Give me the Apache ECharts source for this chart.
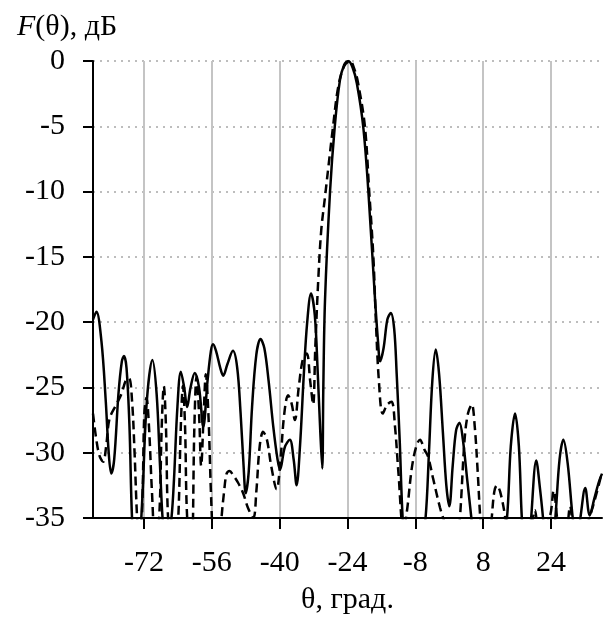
<!DOCTYPE html>
<html>
<head>
<meta charset="utf-8">
<script src="https://cdn.jsdelivr.net/npm/echarts@6/dist/echarts.min.js"></script>
<style>
html,body{margin:0;padding:0;background:#fff;}
#chart{width:606px;height:630px;}
</style>
</head>
<body>
<div id="chart"></div>
<script>
// X tick labels (degrees) and Y tick step
var xTicks = [-72, -56, -40, -24, -8, 8, 24];
var xMin = -84, xMax = 36;
var yMin = -35, yMax = 0, yStep = 5;

// Solid curve: angle (deg) and level (dB)
var thetaSolid = [-84, -83.2, -82, -81, -80.3, -79.7, -79, -78, -77.2, -76.7, -76.1, -75.4, -74.8, -73.8, -72.8, -72.3, -71.3, -70, -69, -68.2, -67.6, -66.7, -65.5, -64.9, -64.1, -63.3, -62.5, -61.8, -61, -60, -59, -58, -57, -56.2, -55.7, -55, -54, -53.3, -52.3, -51, -50, -49.2, -48.5, -48, -47.3, -46.5, -45.5, -44.5, -43.6, -42.6, -41.5, -40.5, -39.9, -38.8, -37.6, -36.7, -36, -35.2, -34.3, -33.5, -32.6, -31.7, -31, -30.4, -29.95, -29.7, -29.3, -28.1, -27, -25.8, -24.8, -23.8, -22.8, -21.8, -20.3, -19.1, -17.5, -16.8, -16.3, -15.5, -14.6, -13.8, -13, -12.4, -11.7, -11, -9.5, -7.5, -5.6, -4.8, -4, -3.2, -2.4, -1.5, -0.7, 0, 0.8, 1.6, 2.4, 3.2, 4.2, 5.2, 9.5, 13.6, 14.5, 15.5, 16.4, 17.1, 18.2, 19.3, 20.5, 21.4, 22.1, 23.5, 25, 26, 26.9, 27.9, 29.1, 30, 30.9, 32.05, 33.1, 34.2, 35.2, 36];
var dbSolid = [-19.8, -19.2, -21.5, -26, -30, -31.6, -30.5, -25.5, -23, -22.6, -23.5, -28, -35, -40, -36, -33, -26, -22.9, -25.5, -31, -35, -38, -35, -32, -26.5, -23.8, -25, -26.5, -25, -23.9, -25, -28, -24.5, -22.2, -21.7, -22.2, -23.5, -24.1, -23.2, -22.2, -23.5, -27, -31, -33.1, -31.5, -26.5, -22.5, -21.3, -22, -24.5, -28, -30.5, -31.3, -29.6, -29, -30.5, -32.5, -29.5, -24, -20, -17.8, -19.5, -24, -28.5, -31.2, -25, -18.3, -9.9, -5, -1.5, -0.3, 0, -0.5, -1.7, -5, -9.9, -18.3, -21.5, -23, -22, -19.8, -19.3, -20.5, -24, -29, -35, -42, -40, -35, -30, -24.5, -22.1, -24, -28.5, -32.5, -34.1, -31, -28.3, -27.7, -29, -32, -35, -48, -35, -29.5, -27, -29.5, -35, -40, -35, -30.6, -32.8, -35, -40, -35, -30.5, -29, -30.8, -35, -37, -35, -32.7, -34.8, -33.5, -32.3, -31.6];

// Dashed curve: angle (deg) and level (dB)
var thetaDashed = [-84, -83.3, -82.5, -81.6, -80.9, -80.1, -78.5, -77.3, -76.3, -75.5, -74.8, -74.2, -73.6, -72.9, -72.3, -71.9, -71.4, -70.8, -70.1, -69.3, -68.4, -67.8, -67.3, -66.8, -66.3, -65, -63.9, -63.3, -62.8, -62.3, -61.8, -60.8, -60.1, -59.6, -59, -58.5, -57.9, -57.4, -56.8, -56.2, -55.5, -54.7, -53.7, -53.1, -52.5, -51.8, -51, -49.8, -48.6, -47.5, -46.2, -45.5, -44.7, -43.9, -43, -42, -40.7, -39.8, -38.9, -38, -37.2, -36.4, -35.5, -34.5, -33.6, -32.8, -32.1, -31.6, -30.9, -30.2, -29.3, -28.5, -27.4, -26.2, -24.8, -23.4, -22.4, -21.5, -19.9, -18.9, -17.9, -17.3, -16.6, -15.7, -14.6, -13.6, -12.8, -12, -10.8, -10, -8.5, -6.9, -5.8, -5, -3.8, -2.2, -0.6, 1, 2.5, 3.6, 4.4, 5.3, 6, 6.7, 7.3, 8.5, 10, 10.6, 11.2, 12, 13.2, 16, 19.3, 20.2, 21.2, 23.6, 24.6, 25.4, 27, 28.5, 30, 32, 33.5, 34.8, 36];
var dbDashed = [-27, -28.8, -30.2, -30.7, -29.5, -27.4, -26.3, -25.5, -24.5, -24.3, -26, -30, -35, -38, -33, -27, -25.8, -28, -33, -37, -35, -28, -24.9, -28, -35, -40, -35, -28, -24.9, -28, -35, -38, -28, -24.2, -27, -31, -27, -24, -27, -33, -38, -40, -35, -33, -31.6, -31.4, -31.7, -32.3, -33.1, -34.2, -35, -33, -29.5, -28.4, -29, -31, -32.8, -30.5, -27, -25.6, -26.2, -27.5, -25, -22.8, -22.4, -24.5, -26.3, -22, -16.8, -13, -10.4, -8.1, -5, -2, -0.4, 0, -0.6, -1.7, -5, -9.9, -15, -20, -24.5, -27, -26.3, -26.1, -28, -31.5, -36, -34.5, -30.5, -29, -29.8, -30.3, -32, -34.2, -36, -40, -35, -29, -27, -26.3, -28, -31.5, -35, -40, -35, -33, -32.5, -33, -35, -42, -36, -34.4, -36, -35, -32.9, -35, -40, -34.1, -38, -36, -34.5, -33, -31.5];

function pairs(xs, ys) {
  var out = [];
  for (var i = 0; i < xs.length; i++) out.push([xs[i], ys[i]]);
  return out;
}

var fontFam = '"Liberation Serif", "Times New Roman", serif';
var chart = echarts.init(document.getElementById('chart'), null, {renderer: 'canvas'});
chart.setOption({
  animation: false,
  backgroundColor: '#ffffff',
  title: {
    text: '{i|F}(θ), дБ',
    left: 12,
    top: 7,
    textStyle: {
      fontFamily: fontFam,
      fontSize: 30,
      fontWeight: 'normal',
      color: '#000',
      rich: {
        i: {fontFamily: fontFam, fontSize: 30, fontStyle: 'italic', color: '#000'}
      }
    }
  },
  grid: {left: 93, right: 4, top: 61, bottom: 112, containLabel: false},
  xAxis: {
    type: 'value',
    min: xMin,
    max: xMax,
    name: 'θ, град.',
    nameLocation: 'middle',
    nameGap: 67,
    nameTextStyle: {fontFamily: fontFam, fontSize: 30, color: '#000'},
    axisLine: {show: true, onZero: false, lineStyle: {color: '#000', width: 2}},
    axisTick: {show: true, inside: false, length: 11, customValues: xTicks, lineStyle: {color: '#000', width: 2}},
    axisLabel: {customValues: xTicks, margin: 30, fontFamily: fontFam, fontSize: 30, color: '#000'},
    splitLine: {show: true, lineStyle: {color: '#c4c4c4', width: 2, type: 'solid'}}
  },
  yAxis: {
    type: 'value',
    min: yMin,
    max: yMax,
    interval: yStep,
    axisLine: {show: true, onZero: false, lineStyle: {color: '#000', width: 2}},
    axisTick: {show: true, inside: false, length: 10, lineStyle: {color: '#000', width: 2}},
    axisLabel: {margin: 28, fontFamily: fontFam, fontSize: 30, color: '#000'},
    splitLine: {show: true, lineStyle: {color: '#bdbdbd', width: 2, type: [2, 5]}}
  },
  series: [
    {
      type: 'line',
      data: pairs(thetaSolid, dbSolid),
      showSymbol: false,
      smooth: 0.35,
      clip: true,
      lineStyle: {color: '#000', width: 2.5, type: 'solid'},
      z: 3
    },
    {
      type: 'line',
      data: pairs(thetaDashed, dbDashed),
      showSymbol: false,
      smooth: 0.35,
      clip: true,
      lineStyle: {color: '#000', width: 2.5, type: [9, 5]},
      z: 2
    }
  ]
});
</script>
</body>
</html>
